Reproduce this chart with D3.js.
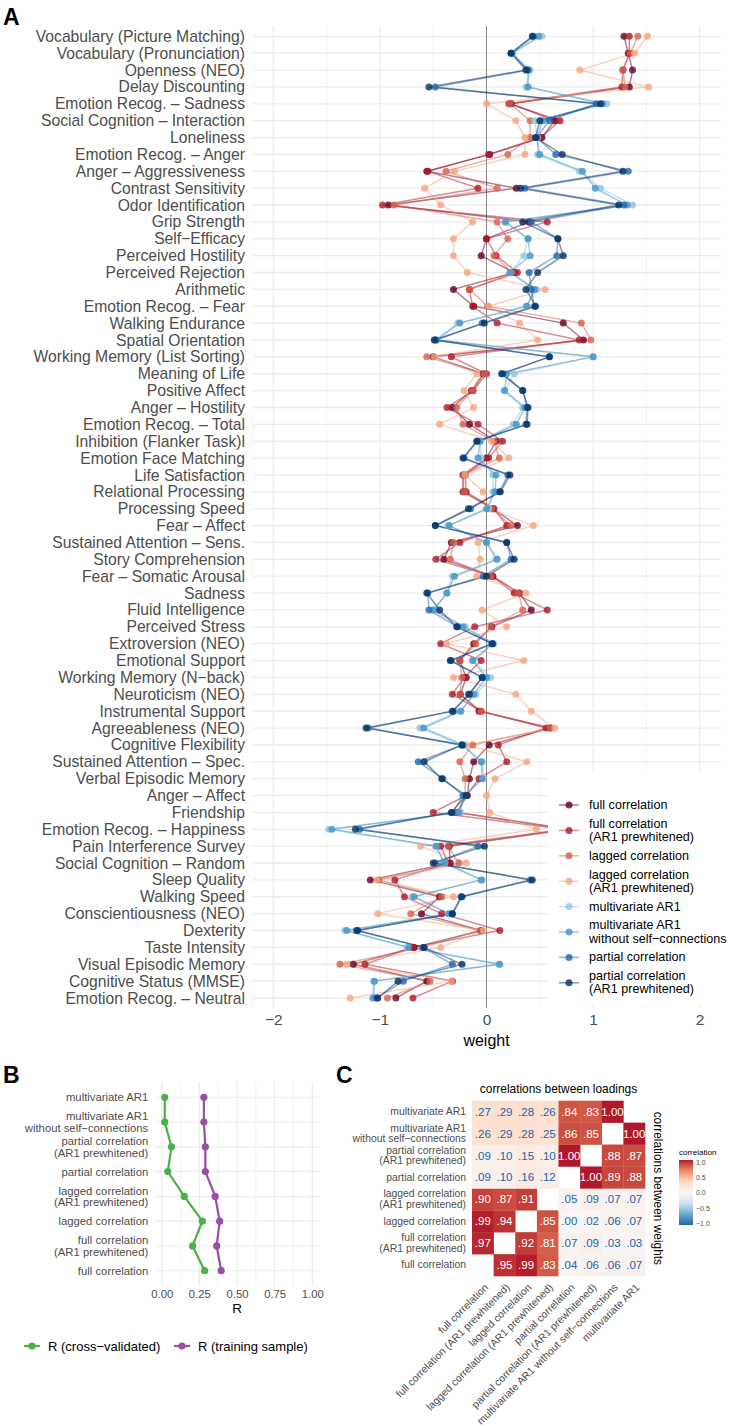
<!DOCTYPE html>
<html>
<head>
<meta charset="utf-8">
<script src="https://cdn.jsdelivr.net/npm/d3@7"></script>
<style>
  body { margin: 0; background: #fff; }
  svg text { font-family: "Liberation Sans", Arial, sans-serif; }
</style>
</head>
<body>
<svg id="fig" width="732" height="1427"></svg>
<script>
// ---- panel A data (weights per measure, top to bottom) ----
var measures = ["Vocabulary (Picture Matching)", "Vocabulary (Pronunciation)", "Openness (NEO)", "Delay Discounting",
  "Emotion Recog. – Sadness", "Social Cognition – Interaction", "Loneliness", "Emotion Recog. – Anger",
  "Anger – Aggressiveness", "Contrast Sensitivity", "Odor Identification", "Grip Strength", "Self−Efficacy",
  "Perceived Hostility", "Perceived Rejection", "Arithmetic", "Emotion Recog. – Fear", "Walking Endurance",
  "Spatial Orientation", "Working Memory (List Sorting)", "Meaning of Life", "Positive Affect", "Anger – Hostility",
  "Emotion Recog. – Total", "Inhibition (Flanker Task)l", "Emotion Face Matching", "Life Satisfaction",
  "Relational Processing", "Processing Speed", "Fear – Affect", "Sustained Attention – Sens.", "Story Comprehension",
  "Fear – Somatic Arousal", "Sadness", "Fluid Intelligence", "Perceived Stress", "Extroversion (NEO)",
  "Emotional Support", "Working Memory (N−back)", "Neuroticism (NEO)", "Instrumental Support", "Agreeableness (NEO)",
  "Cognitive Flexibility", "Sustained Attention – Spec.", "Verbal Episodic Memory", "Anger – Affect", "Friendship",
  "Emotion Recog. – Happiness", "Pain Interference Survey", "Social Cognition – Random", "Sleep Quality",
  "Walking Speed", "Conscientiousness (NEO)", "Dexterity", "Taste Intensity", "Visual Episodic Memory",
  "Cognitive Status (MMSE)", "Emotion Recog. – Neutral"];

var fullCorr = [1.29, 1.33, 1.37, 1.34, 0.23, 0.64, 0.52, 0.03, -0.56, 0.28,
  -0.92, 0.40, 0.00, -0.05, 0.26, -0.31, -0.12, 0.72, 0.91, -0.50,
  -0.03, -0.14, -0.32, -0.16, 0.09, 0.00, -0.22, -0.22, 0.06, 0.29,
  -0.33, -0.40, 0.06, 0.31, 0.42, 0.05, -0.12, -0.25, -0.19, -0.245,
  -0.07, 0.60, 0.025, -0.12, -0.16, -0.18, -0.28, 0.78, -0.35, -0.34,
  -1.09, -0.44, -0.61, -0.05, -0.68, -1.25, -0.56, -0.85];
var fullCorrAR1 = [1.34, 1.34, 1.28, 1.27, 0.21, 0.69, 0.51, 0.02, -0.55, -0.08,
  -0.975, 0.57, 0.00, 0.09, 0.29, -0.16, -0.13, 0.10, 0.87, -0.33,
  0.00, -0.125, -0.37, -0.08, 0.15, 0.02, -0.20, -0.19, 0.07, 0.19,
  -0.25, -0.475, 0.05, 0.26, 0.57, -0.11, -0.43, -0.05, -0.21, -0.32,
  -0.05, 0.56, 0.11, 0.19, -0.07, -0.19, -0.50, 0.72, -0.43, -0.36,
  -0.86, -0.77, -0.42, 0.125, -0.69, -1.14, -0.32, -0.69];
var laggedCorr = [1.42, 1.35, 1.28, 1.30, 0.22, 0.41, 0.41, 0.20, -0.38, 0.10,
  -0.87, 0.10, 0.20, 0.07, 0.24, -0.16, 0.01, 0.89, 0.98, -0.56,
  -0.02, -0.13, -0.28, -0.22, 0.07, 0.12, -0.22, -0.21, 0.05, 0.23,
  -0.31, -0.34, 0.04, 0.30, 0.34, 0.04, -0.10, -0.25, -0.23, -0.25,
  -0.05, 0.60, -0.13, -0.25, -0.20, -0.20, -0.27, 0.75, -0.36, -0.26,
  -1.01, -0.42, -0.71, -0.06, -0.60, -1.375, -0.53, -0.93];
var laggedCorrAR1 = [1.51, 1.39, 0.875, 1.52, 0.00, 0.275, 0.36, 0.36, -0.30, -0.58,
  -0.43, -0.13, -0.31, -0.31, -0.18, 0.55, 0.02, 0.31, 0.48, -0.49,
  -0.09, -0.21, -0.12, -0.44, 0.05, 0.21, -0.20, -0.03, 0.02, 0.44,
  -0.08, -0.06, -0.09, 0.37, -0.04, 0.19, -0.375, 0.35, -0.31, 0.275,
  0.42, 0.64, -0.19, 0.38, 0.08, 0.00, 0.03, 0.47, -0.62, -0.19,
  -1.03, -0.31, -1.02, -0.03, -0.43, -1.31, -0.33, -1.28];
var mvarAR1 = [0.52, 0.24, 0.41, 0.37, 1.13, 0.45, 0.48, 0.48, 0.87, 1.07,
  1.37, 0.17, 0.39, 0.35, 0.22, 0.47, 0.37, -0.27, -0.48, 1.00,
  0.26, 0.17, 0.34, 0.25, -0.06, -0.05, 0.06, 0.06, 0.02, -0.36,
  0.00, 0.09, -0.32, -0.375, -0.49, -0.20, 0.07, -0.125, 0.04, -0.10,
  -0.25, -0.625, -0.24, -0.04, -0.03, -0.21, -0.24, -1.48, -0.48, -0.39,
  -0.04, -0.70, -0.36, -1.33, -0.75, 0.125, -1.06, -1.07];
var mvarAR1NoSelf = [0.49, 0.24, 0.39, 0.39, 1.09, 0.53, 0.47, 0.50, 0.90, 1.02,
  1.32, 0.18, 0.39, 0.41, 0.22, 0.45, 0.38, -0.25, -0.47, 1.00,
  0.19, 0.17, 0.36, 0.28, -0.06, -0.08, 0.09, 0.08, 0.00, -0.35,
  0.00, 0.10, -0.30, -0.37, -0.50, -0.22, 0.06, -0.13, 0.00, -0.12,
  -0.24, -0.59, -0.22, -0.05, -0.04, -0.20, -0.26, -1.45, -0.47, -0.40,
  -0.05, -0.68, -0.35, -1.31, -0.73, 0.12, -1.05, -1.06];
var partialCorr = [0.44, 0.23, 0.39, -0.48, 1.03, 0.59, 0.47, 0.65, 1.33, 0.36,
  1.29, 0.42, 0.67, 0.66, 0.40, 0.42, 0.45, -0.04, -0.475, 0.59,
  0.14, 0.34, 0.38, 0.37, -0.09, -0.21, 0.20, 0.12, -0.15, -0.48,
  0.19, 0.23, -0.03, -0.55, -0.54, -0.27, 0.05, -0.33, -0.04, -0.17,
  -0.31, -1.11, -0.23, -0.64, -0.41, -0.22, -0.32, -1.19, -0.08, -0.48,
  0.41, -0.24, -0.32, -1.22, -0.59, -0.32, -0.78, -1.03];
var partialCorrAR1 = [0.43, 0.23, 0.37, -0.54, 1.07, 0.50, 0.46, 0.71, 1.28, 0.32,
  1.24, 0.34, 0.67, 0.72, 0.48, 0.37, 0.46, -0.02, -0.49, 0.59,
  0.15, 0.34, 0.39, 0.38, -0.09, -0.22, 0.22, 0.13, -0.17, -0.48,
  0.19, 0.26, 0.00, -0.56, -0.44, -0.28, 0.056, -0.34, -0.04, -0.16,
  -0.32, -1.13, -0.23, -0.585, -0.42, -0.19, -0.33, -1.23, -0.02, -0.50,
  0.43, -0.23, -0.32, -1.21, -0.585, -0.23, -0.83, -1.02];

var methods = ["full correlation", "full correlation\n(AR1 prewhitened)", "lagged correlation",
  "lagged correlation\n(AR1 prewhitened)", "multivariate AR1", "multivariate AR1\nwithout self−connections",
  "partial correlation", "partial correlation\n(AR1 prewhitened)"];
var weightSeries = [fullCorr, fullCorrAR1, laggedCorr, laggedCorrAR1, mvarAR1, mvarAR1NoSelf, partialCorr, partialCorrAR1];
var methodColors = ["#67001F", "#B2182B", "#D6604D", "#F4A582", "#92C5DE", "#4393C3", "#2166AC", "#053061"];

// ---- panel B data (top to bottom) ----
var methodsB = [methods[4], methods[5], methods[7], methods[6], methods[3], methods[2], methods[1], methods[0]];
var rCrossValidated = [0.02, 0.02, 0.065, 0.04, 0.15, 0.27, 0.205, 0.285];
var rTraining = [0.28, 0.28, 0.29, 0.29, 0.355, 0.385, 0.365, 0.395];

// ---- panel C data: rows/cols in order full .. multivariate AR1, diagonal empty ----
var methodsC = [methods[0], methods[1], methods[2], methods[3], methods[6], methods[7], methods[5], methods[4]];
var corrMatrix = [
  [null, 0.95, 0.99, 0.83, 0.04, 0.06, 0.06, 0.07],
  [0.97, null, 0.92, 0.81, 0.07, 0.09, 0.03, 0.03],
  [0.99, 0.94, null, 0.85, 0.00, 0.02, 0.06, 0.07],
  [0.90, 0.87, 0.91, null, 0.05, 0.09, 0.07, 0.07],
  [0.09, 0.10, 0.16, 0.12, null, 1.00, 0.89, 0.88],
  [0.09, 0.10, 0.15, 0.10, 1.00, null, 0.88, 0.87],
  [0.26, 0.29, 0.28, 0.25, 0.86, 0.85, null, 1.00],
  [0.27, 0.29, 0.28, 0.26, 0.84, 0.83, 1.00, null]
];
var corrTicks = [1, 0.5, 0, -0.5, -1];

var grey30 = "#4D4D4D", gridCol = "#EBEBEB";
var svg = d3.select("#fig");

// split "a\nb" tick labels into tspans
function multiline(sel, lh) {
  sel.each(function(d) {
    var t = d3.select(this), lines = String(d).split("\n");
    t.text(null).attr("dy", null);
    lines.forEach(function(l, i) {
      t.append("tspan").attr("x", t.attr("x"))
        .attr("dy", i === 0 ? (0.32 - (lines.length - 1) / 2 * lh) + "em" : lh + "em").text(l);
    });
  });
}

// ================= panel A =================
var xA = d3.scaleLinear().domain([-2.2, 2.2]).range([252, 721]);
var yA = d3.scalePoint().domain(measures).range([36.3, 998]);
var topA = 26, botA = 1008;
var gA = svg.append("g");

gA.selectAll(".vminor").data(d3.range(-1.5, 2, 1)).enter().append("line")
  .attr("x1", xA).attr("x2", xA).attr("y1", topA).attr("y2", botA)
  .attr("stroke", "#F0F0F0").attr("stroke-width", 0.8);
gA.selectAll(".vmajor").data(xA.ticks(5)).enter().append("line")
  .attr("x1", xA).attr("x2", xA).attr("y1", topA).attr("y2", botA)
  .attr("stroke", gridCol).attr("stroke-width", 1.1);
gA.selectAll(".hgrid").data(measures).enter().append("line")
  .attr("x1", 252).attr("x2", 721).attr("y1", yA).attr("y2", yA)
  .attr("stroke", gridCol).attr("stroke-width", 1.3);
gA.append("line").attr("x1", xA(0)).attr("x2", xA(0)).attr("y1", topA).attr("y2", botA)
  .attr("stroke", "#8A8A8A").attr("stroke-width", 1);

var lineA = d3.line().x(function(d) { return xA(d[1]); }).y(function(d) { return yA(d[0]); });
weightSeries.forEach(function(vals, k) {
  gA.append("path").datum(d3.zip(measures, vals)).attr("d", lineA)
    .attr("fill", "none").attr("stroke", methodColors[k]).attr("stroke-opacity", 0.5).attr("stroke-width", 1.5);
});
weightSeries.forEach(function(vals, k) {
  gA.selectAll(".pt" + k).data(d3.zip(measures, vals)).enter().append("circle")
    .attr("cx", function(d) { return xA(d[1]); }).attr("cy", function(d) { return yA(d[0]); })
    .attr("r", 3.5).attr("fill", methodColors[k]).attr("fill-opacity", 0.8);
});

var axYA = gA.append("g").attr("transform", "translate(252,0)")
  .call(d3.axisLeft(yA).tickSize(0).tickPadding(7));
axYA.select(".domain").remove();
axYA.selectAll("text").attr("font-size", 15.7).attr("fill", grey30);

var axXA = gA.append("g").attr("transform", "translate(0," + botA + ")")
  .call(d3.axisBottom(xA).ticks(5).tickSize(0).tickPadding(6));
axXA.select(".domain").remove();
axXA.selectAll("text").attr("font-size", 15.5).attr("fill", grey30);
gA.append("text").attr("x", xA(0)).attr("y", 1046).attr("text-anchor", "middle")
  .attr("font-size", 16).attr("fill", "#000").text("weight");

// legend box sits over the plot
var legA = gA.append("g");
legA.append("rect").attr("x", 548).attr("y", 773).attr("width", 184).attr("height", 230).attr("fill", "#fff");
methods.forEach(function(m, k) {
  var cy = 805 + k * 25.4;
  legA.append("line").attr("x1", 559).attr("x2", 579).attr("y1", cy).attr("y2", cy)
    .attr("stroke", methodColors[k]).attr("stroke-opacity", 0.5).attr("stroke-width", 1.5);
  legA.append("circle").attr("cx", 569).attr("cy", cy).attr("r", 3.5)
    .attr("fill", methodColors[k]).attr("fill-opacity", 0.8);
  legA.append("text").datum(m).attr("x", 589).attr("y", cy).attr("font-size", 12.6).attr("fill", "#000")
    .call(multiline, 1.05);
});

// ================= panel B =================
var xB = d3.scaleLinear().domain([-0.05, 1.05]).range([154.2, 319.8]);
var yB = d3.scalePoint().domain(methodsB).range([1097.3, 1270.7]);
var topB = 1082, botB = 1286;
var gB = svg.append("g");
gB.selectAll(".vminor").data([0.125, 0.375, 0.625, 0.875]).enter().append("line")
  .attr("x1", xB).attr("x2", xB).attr("y1", topB).attr("y2", botB)
  .attr("stroke", "#F0F0F0").attr("stroke-width", 0.8);
gB.selectAll(".vmajor").data([0, 0.25, 0.5, 0.75, 1]).enter().append("line")
  .attr("x1", xB).attr("x2", xB).attr("y1", topB).attr("y2", botB)
  .attr("stroke", gridCol).attr("stroke-width", 1.1);
gB.selectAll(".hgrid").data(methodsB).enter().append("line")
  .attr("x1", 154.2).attr("x2", 319.8).attr("y1", yB).attr("y2", yB)
  .attr("stroke", gridCol).attr("stroke-width", 1.1);

var rSeries = [[rCrossValidated, "#4DAF4A", "R (cross−validated)"], [rTraining, "#984EA3", "R (training sample)"]];
var lineB = d3.line().x(function(d) { return xB(d[1]); }).y(function(d) { return yB(d[0]); });
rSeries.forEach(function(s) {
  var pts = d3.zip(methodsB, s[0]);
  gB.append("path").datum(pts).attr("d", lineB).attr("fill", "none")
    .attr("stroke", s[1]).attr("stroke-width", 2.2);
  gB.selectAll(null).data(pts).enter().append("circle")
    .attr("cx", function(d) { return xB(d[1]); }).attr("cy", function(d) { return yB(d[0]); })
    .attr("r", 3.6).attr("fill", s[1]);
});

var axYB = gB.append("g").attr("transform", "translate(154.2,0)")
  .call(d3.axisLeft(yB).tickSize(0).tickPadding(6));
axYB.select(".domain").remove();
axYB.selectAll("text").attr("font-size", 11.3).attr("fill", grey30).call(multiline, 1.02);

var axXB = gB.append("g").attr("transform", "translate(0," + botB + ")")
  .call(d3.axisBottom(xB).tickValues([0, 0.25, 0.5, 0.75, 1]).tickFormat(d3.format(".2f")).tickSize(0).tickPadding(4));
axXB.select(".domain").remove();
axXB.selectAll("text").attr("font-size", 11.3).attr("fill", grey30);
gB.append("text").attr("x", xB(0.5)).attr("y", 1313).attr("text-anchor", "middle")
  .attr("font-size", 13.5).text("R");

rSeries.forEach(function(s, i) {
  var x0 = i === 0 ? 24 : 174, cy = 1346;
  gB.append("line").attr("x1", x0).attr("x2", x0 + 16).attr("y1", cy).attr("y2", cy)
    .attr("stroke", s[1]).attr("stroke-width", 2.2);
  gB.append("circle").attr("cx", x0 + 8).attr("cy", cy).attr("r", 3.6).attr("fill", s[1]);
  gB.append("text").attr("x", x0 + 24).attr("y", cy).attr("dy", "0.35em")
    .attr("font-size", 13).text(s[2]);
});

// ================= panel C =================
var xC = d3.scaleBand().domain(methodsC).range([472, 645]);
var yC = d3.scaleBand().domain(methodsC.slice().reverse()).range([1100.7, 1276]);
// brewer RdBu (7) stretched over -1..1
var fillC = d3.scaleLinear().domain([-1, -2/3, -1/3, 0, 1/3, 2/3, 1])
  .range(["#2166AC", "#67A9CF", "#D1E5F0", "#F7F7F7", "#FDDBC7", "#EF8A62", "#B2182B"])
  .interpolate(d3.interpolateLab);
var fmt = function(v) { return v >= 1 ? "1.00" : d3.format(".2f")(v).replace(/^0/, ""); };
var gC = svg.append("g");

var cells = [];
corrMatrix.forEach(function(row, i) {
  row.forEach(function(v, j) { if (v !== null) cells.push({ r: methodsC[i], c: methodsC[j], v: v }); });
});
gC.selectAll(".cell").data(cells).enter().append("rect")
  .attr("x", function(d) { return xC(d.c); }).attr("y", function(d) { return yC(d.r); })
  .attr("width", xC.bandwidth() + 0.3).attr("height", yC.bandwidth() + 0.3)
  .attr("fill", function(d) { return fillC(d.v); });
gC.selectAll(".lab").data(cells).enter().append("text")
  .attr("x", function(d) { return xC(d.c) + xC.bandwidth() / 2; })
  .attr("y", function(d) { return yC(d.r) + yC.bandwidth() / 2; })
  .attr("dy", "0.35em").attr("text-anchor", "middle").attr("font-size", 11.5)
  .attr("fill", function(d) { return d.v > 0.5 ? "#fff" : "#2166AC"; })
  .text(function(d) { return fmt(d.v); });

var axYC = gC.append("g").attr("transform", "translate(472,0)")
  .call(d3.axisLeft(yC).tickSize(0).tickPadding(6));
axYC.select(".domain").remove();
axYC.selectAll("text").attr("font-size", 10.4).attr("fill", grey30).call(multiline, 1.0);

var axXC = gC.append("g").attr("transform", "translate(0,1276)")
  .call(d3.axisBottom(xC).tickSize(0).tickFormat(function(d) { return d.replace("\n", " "); }));
axXC.select(".domain").remove();
axXC.selectAll("text").attr("font-size", 10.5).attr("fill", grey30)
  .attr("x", 0).attr("y", 0).attr("dy", 0).attr("text-anchor", "end")
  .attr("transform", "translate(6,12) rotate(-45)");

gC.append("text").attr("x", (472 + 645) / 2).attr("y", 1089).attr("dy", "0.35em")
  .attr("text-anchor", "middle").attr("font-size", 11.9).text("correlations between loadings");
gC.append("text").attr("transform", "translate(654," + ((1100.7 + 1276) / 2) + ") rotate(90)")
  .attr("text-anchor", "middle").attr("font-size", 11.9).text("correlations between weights");

// colour bar
var barY = d3.scaleLinear().domain([1, -1]).range([1162, 1223]);
var grad = svg.append("defs").append("linearGradient").attr("id", "cbar")
  .attr("x1", 0).attr("x2", 0).attr("y1", 0).attr("y2", 1);
d3.range(0, 21).forEach(function(i) {
  var v = 1 - i / 10;
  grad.append("stop").attr("offset", i / 20).attr("stop-color", fillC(v));
});
gC.append("rect").attr("x", 679).attr("y", 1160).attr("width", 14).attr("height", 65).attr("fill", "url(#cbar)");
gC.append("text").attr("x", 679).attr("y", 1155).attr("font-size", 8).text("correlation");
var axBar = gC.append("g").attr("transform", "translate(693,0)")
  .call(d3.axisRight(barY).tickValues(corrTicks).tickFormat(d3.format(".1f")).tickSize(0).tickPadding(3));
axBar.select(".domain").remove();
axBar.selectAll("text").attr("font-size", 7).attr("fill", grey30);

// panel letters
[["A", 3, 25], ["B", 3, 1083], ["C", 336, 1083]].forEach(function(p) {
  svg.append("text").attr("x", p[1]).attr("y", p[2]).attr("font-size", 23).attr("font-weight", "bold").text(p[0]);
});
</script>
</body>
</html>
